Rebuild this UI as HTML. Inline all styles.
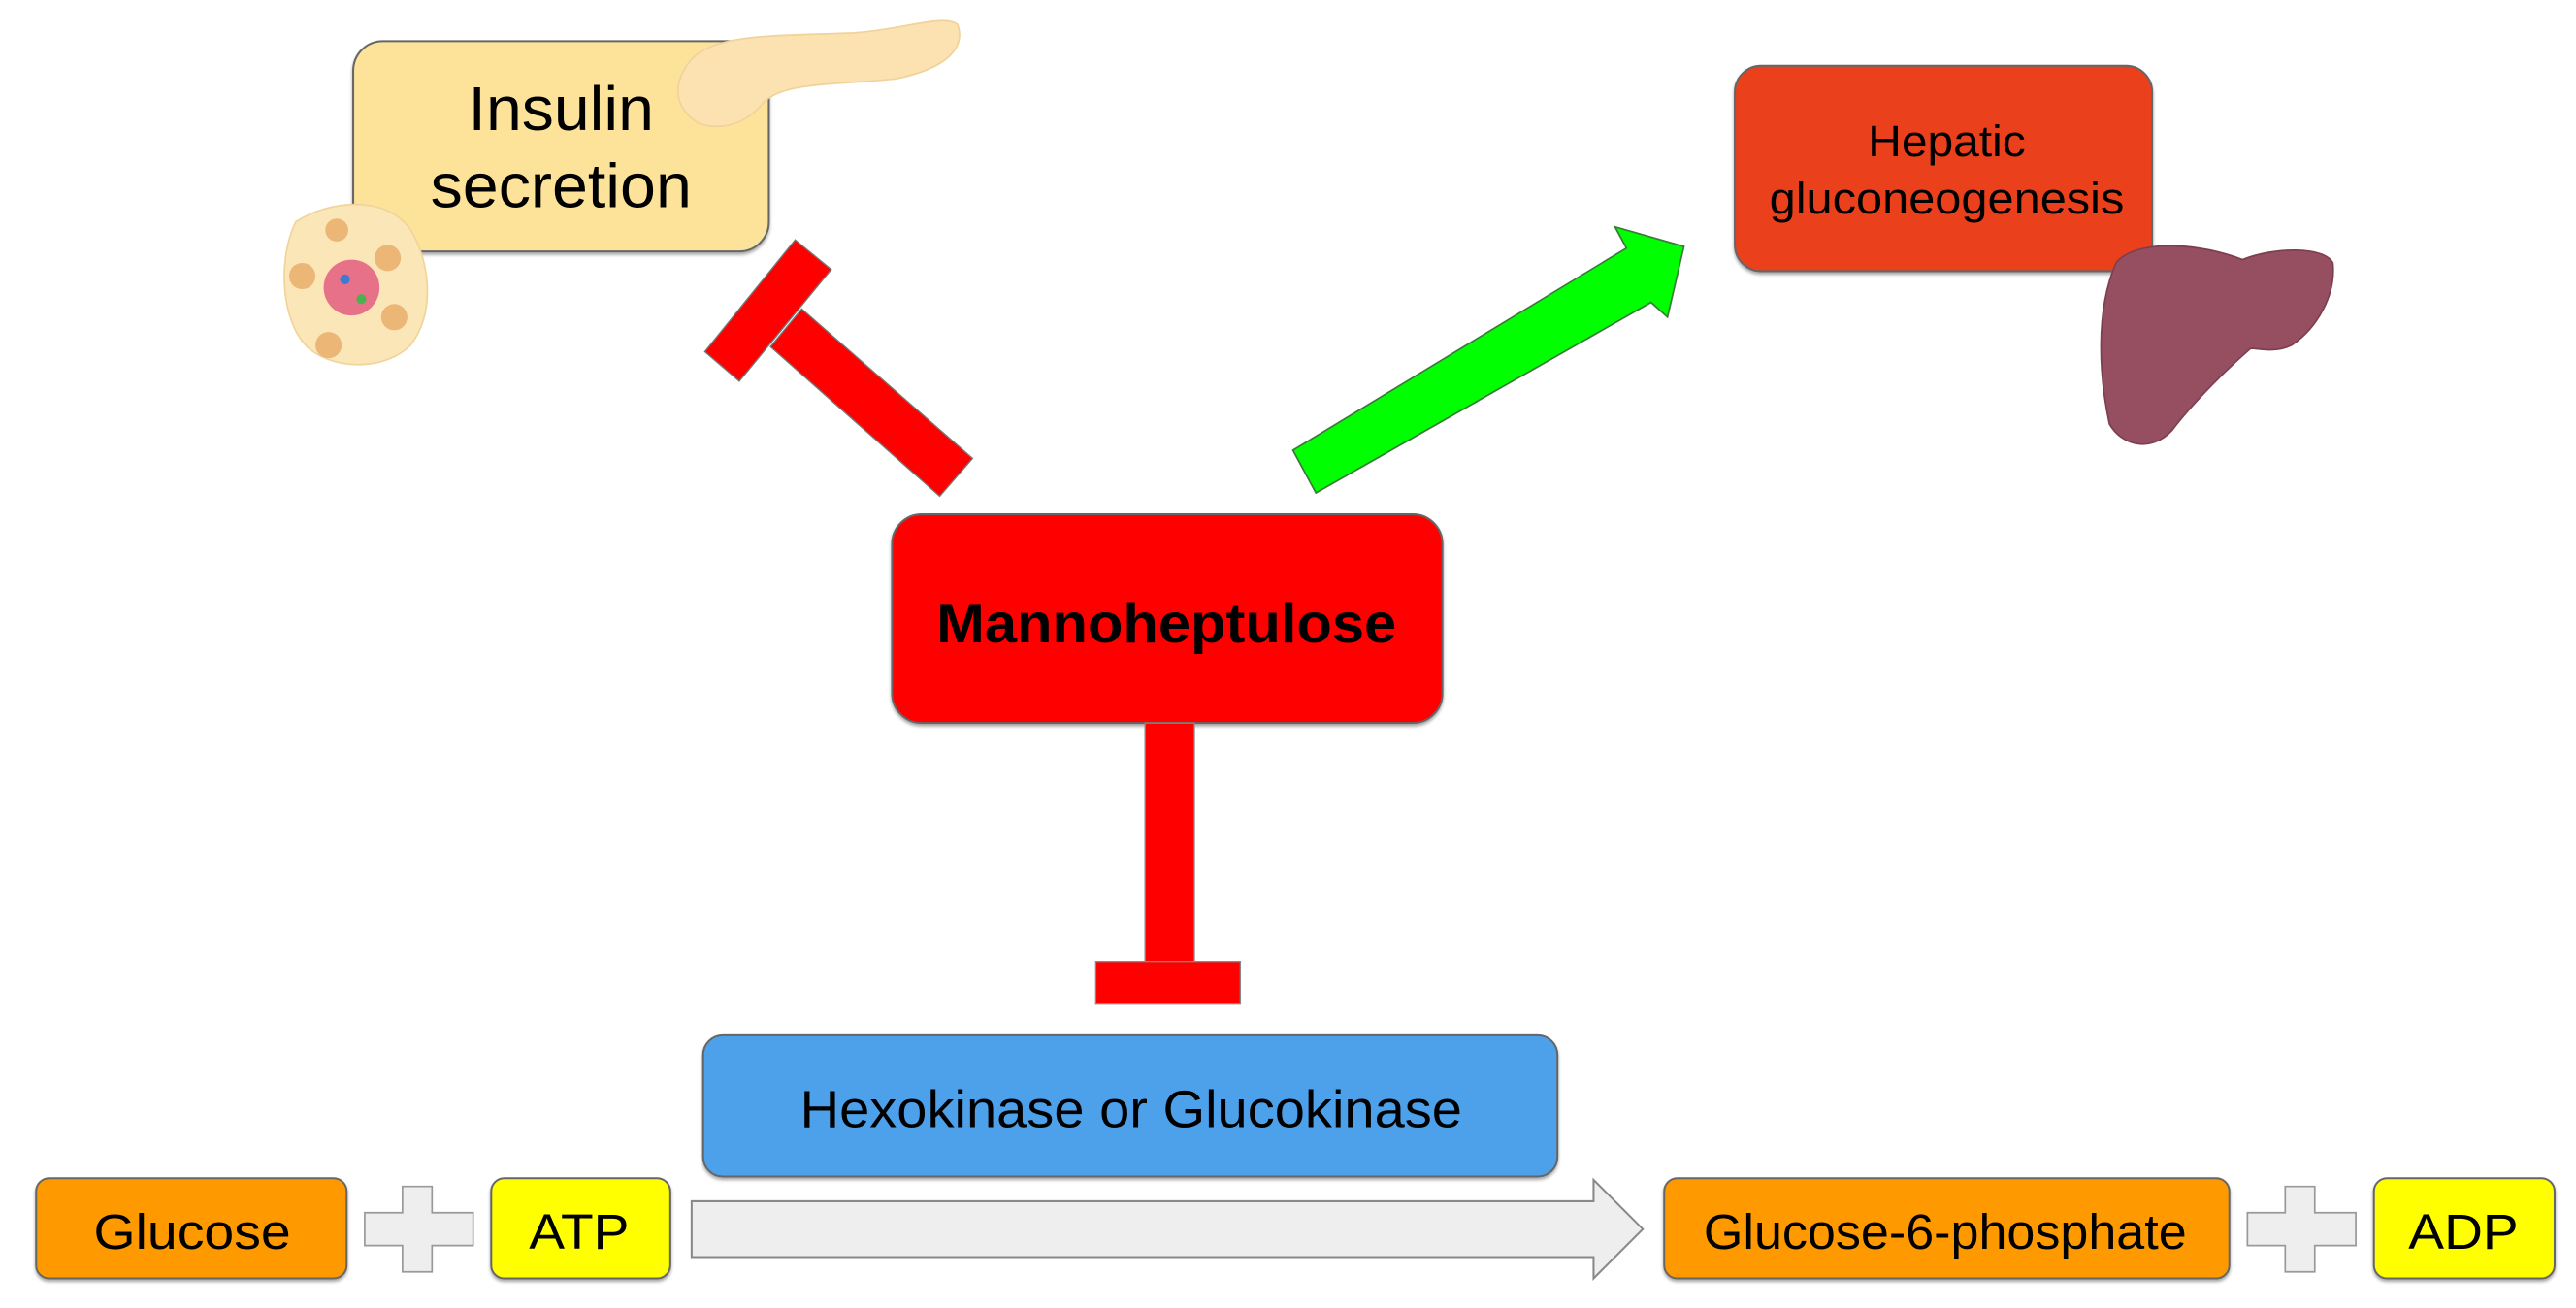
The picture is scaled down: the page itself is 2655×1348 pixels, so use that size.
<!DOCTYPE html>
<html><head><meta charset="utf-8"><style>
html,body{margin:0;padding:0;background:#fff;}
svg{display:block}
text{font-family:"Liberation Sans",Arial,sans-serif;fill:#000;}
</style></head><body>
<svg width="2655" height="1348" viewBox="0 0 1568 796" preserveAspectRatio="none" xmlns="http://www.w3.org/2000/svg">
<defs>
<filter id="sh" x="-10%" y="-10%" width="130%" height="130%"><feDropShadow dx="0" dy="1.5" stdDeviation="1" flood-color="#000" flood-opacity="0.35"/></filter>
</defs>
<!-- Insulin box -->
<rect x="215" y="25" width="253" height="128" rx="18" fill="#fde29a" stroke="#666" stroke-width="1.2" filter="url(#sh)"/>
<text x="285" y="79" font-size="38" textLength="113" lengthAdjust="spacingAndGlyphs">Insulin</text>
<text x="262" y="126" font-size="38" textLength="159" lengthAdjust="spacingAndGlyphs">secretion</text>
<!-- pancreas -->
<path d="M418,40 C430,20 470,22 520,20 C550,18 575,8 583,15 C588,30 575,42 545,48 C505,52 478,50 465,62 C455,75 440,80 425,75 C410,65 410,52 418,40Z" fill="#fbe2b0" stroke="#f0d39a" stroke-width="1"/>
<!-- islet -->
<path d="M180,135 C200,122 235,118 250,140 C262,160 265,190 250,210 C235,225 205,226 188,212 C172,198 168,160 180,135Z" fill="#fbe6b8" stroke="#f1d49a"/>
<circle cx="214" cy="175" r="17" fill="#e8718a"/>
<circle cx="210" cy="170" r="3" fill="#3a7bd5"/><circle cx="220" cy="182" r="3" fill="#4caf50"/>
<circle cx="236" cy="157" r="8" fill="#e6a25a" opacity="0.7"/><circle cx="240" cy="193" r="8" fill="#e6a25a" opacity="0.7"/>
<circle cx="200" cy="210" r="8" fill="#e6a25a" opacity="0.7"/><circle cx="184" cy="168" r="8" fill="#e6a25a" opacity="0.7"/>
<circle cx="205" cy="140" r="7" fill="#e6a25a" opacity="0.7"/>
<!-- T inhibitor top-left -->
<polygon points="469,211 488,188 592,279 572,302" fill="#ff0000" stroke="#777" stroke-width="0.8"/>
<polygon points="429,214 484,146 506,164 450,232" fill="#ff0000" stroke="#777" stroke-width="0.8"/>
<!-- green arrow -->
<polygon points="787,274 990,151 983,138 1025,150 1015,193 1005,184 801,300" fill="#00ff00" stroke="#3a7a3a" stroke-width="1"/>
<!-- Hepatic box -->
<rect x="1056" y="40" width="254" height="125" rx="16" fill="#ea3f1d" stroke="#666" stroke-width="1.2" filter="url(#sh)"/>
<text x="1137" y="95" font-size="27" textLength="96" lengthAdjust="spacingAndGlyphs">Hepatic</text>
<text x="1077" y="130" font-size="27" textLength="216" lengthAdjust="spacingAndGlyphs">gluconeogenesis</text>
<!-- liver -->
<path d="M1288,160 C1300,145 1340,148 1365,158 C1385,150 1415,150 1420,160 C1422,180 1410,200 1395,210 C1385,215 1375,212 1370,212 C1355,225 1335,245 1322,262 C1310,275 1292,272 1284,258 C1278,230 1275,190 1288,160Z" fill="#954f61" stroke="#7d3f50" stroke-width="1"/>
<!-- Mannoheptulose -->
<rect x="543" y="313" width="335" height="127" rx="18" fill="#ff0000" stroke="#666" stroke-width="1.2" filter="url(#sh)"/>
<text x="570" y="391" font-size="34" font-weight="bold" textLength="280" lengthAdjust="spacingAndGlyphs">Mannoheptulose</text>
<!-- vertical inhibitor -->
<rect x="697" y="440" width="30" height="146" fill="#ff0000" stroke="#888" stroke-width="0.8"/>
<rect x="667" y="585" width="88" height="26" fill="#ff0000" stroke="#888" stroke-width="0.8"/>
<!-- Hexokinase -->
<rect x="428" y="630" width="520" height="86" rx="12" fill="#4da0ea" stroke="#666" stroke-width="1.2" filter="url(#sh)"/>
<text x="487" y="686" font-size="32" textLength="403" lengthAdjust="spacingAndGlyphs">Hexokinase or Glucokinase</text>
<!-- bottom row -->
<rect x="22" y="717" width="189" height="61" rx="8" fill="#ff9900" stroke="#666" stroke-width="1.2" filter="url(#sh)"/>
<text x="57" y="760" font-size="30" textLength="120" lengthAdjust="spacingAndGlyphs">Glucose</text>
<path d="M245,722 h18 v16 h25 v20 h-25 v16 h-18 v-16 h-23 v-20 h23Z" fill="#eeeeee" stroke="#999" stroke-width="1"/>
<rect x="299" y="717" width="109" height="61" rx="8" fill="#ffff00" stroke="#666" stroke-width="1.2" filter="url(#sh)"/>
<text x="322" y="760" font-size="30" textLength="61" lengthAdjust="spacingAndGlyphs">ATP</text>
<polygon points="421,731 970,731 970,718 1000,748 970,778 970,765 421,765" fill="#eeeeee" stroke="#888" stroke-width="1.2"/>
<rect x="1013" y="717" width="344" height="61" rx="8" fill="#ff9900" stroke="#666" stroke-width="1.2" filter="url(#sh)"/>
<text x="1037" y="760" font-size="30" textLength="294" lengthAdjust="spacingAndGlyphs">Glucose-6-phosphate</text>
<path d="M1391,722 h18 v16 h25 v20 h-25 v16 h-18 v-16 h-23 v-20 h23Z" fill="#eeeeee" stroke="#999" stroke-width="1"/>
<rect x="1445" y="717" width="110" height="61" rx="8" fill="#ffff00" stroke="#666" stroke-width="1.2" filter="url(#sh)"/>
<text x="1466" y="760" font-size="30" textLength="67" lengthAdjust="spacingAndGlyphs">ADP</text>
</svg>
</body></html>
